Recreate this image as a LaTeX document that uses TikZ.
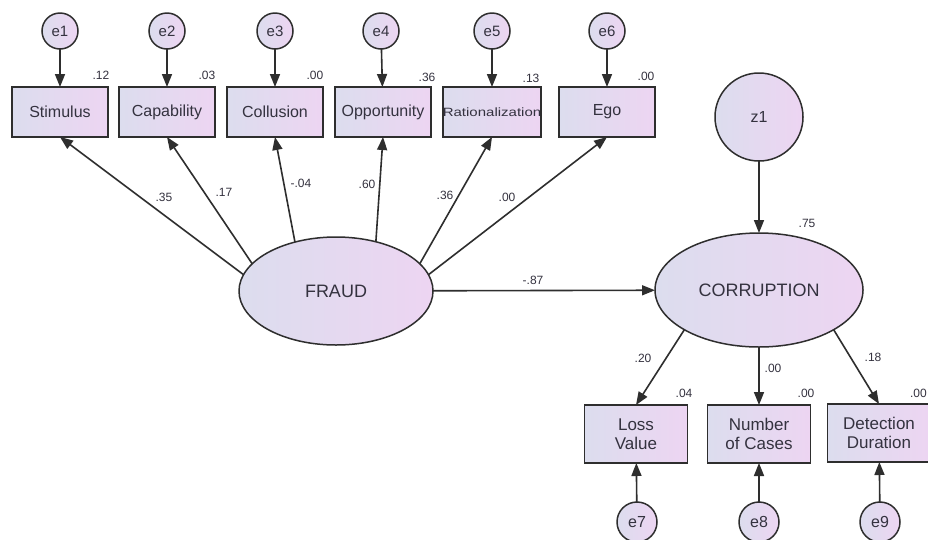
\documentclass[tikz,border=0pt]{standalone}
\usepackage{fontspec}
\setmainfont{Liberation Sans}
\newfontfamily\ratfont{Liberation Sans}[FakeStretch=1.25]
\usetikzlibrary{shapes.geometric,arrows.meta}
\definecolor{txt}{HTML}{34323F}
\definecolor{edge}{HTML}{2E2E2E}
\definecolor{fillL}{HTML}{DCDDEE}
\definecolor{fillR}{HTML}{EDD5F2}
\begin{document}
\begin{tikzpicture}[x=1pt,y=-1pt,
  base/.style={draw=edge, line width=1.5pt, left color=fillL, right color=fillR, text=txt, inner sep=0pt, outer sep=0pt},
  obs/.style={base, rectangle, minimum width=96pt, minimum height=50pt, font=\fontsize{16}{18}\selectfont},
  obstwo/.style={base, rectangle, minimum width=103pt, minimum height=58pt, align=center, font=\fontsize{17}{19}\selectfont},
  err/.style={base, circle, minimum size=36pt, font=\fontsize{15}{17}\selectfont},
  errtwo/.style={base, circle, minimum size=40pt, font=\fontsize{16}{18}\selectfont},
  lat/.style={base, ellipse, font=\fontsize{18}{20}\selectfont},
  arr/.style={draw=edge, line width=1.6pt, -{Triangle[length=13pt,width=10pt]}},
  lbl/.style={text=txt, font=\fontsize{12}{14}\selectfont, inner sep=0pt}
]
\useasboundingbox (0,0) rectangle (928,539);
\clip (0,0) rectangle (928,539);
\fill[white] (0,0) rectangle (928,539);

% top observed variables
\node[obs] (stim) at (60,112) {Stimulus};
\node[obs] (capa) at (167,112) {Capability};
\node[obs] (coll) at (275,112) {Collusion};
\node[obs] (oppo) at (383,112) {Opportunity};
\node[obs] (rati) at (492,112) {\ratfont\fontsize{12}{14}\selectfont Rationalization};
\node[obs] (ego) at (607,112) {Ego};

% error terms top
\node[err] (e1) at (60,31) {e1};
\node[err] (e2) at (167,31) {e2};
\node[err] (e3) at (275,31) {e3};
\node[err] (e4) at (381,31) {e4};
\node[err] (e5) at (492,31) {e5};
\node[err] (e6) at (607,31) {e6};

\foreach \e/\b in {e1/stim,e2/capa,e3/coll,e4/oppo,e5/rati,e6/ego}
  \draw[arr] (\e) -- (\b);

% latent variables
\node[lat, minimum width=194pt, minimum height=108pt] (fraud) at (336,291) {FRAUD};
\node[lat, minimum width=208pt, minimum height=114pt] (corr) at (759,290) {CORRUPTION};
\node[base, circle, minimum size=88pt, font=\fontsize{16}{18}\selectfont] (z1) at (759,117) {z1};

% lower observed variables
\node[obstwo] (loss) at (636,434) {Loss\\Value};
\node[obstwo] (numb) at (759,434) {Number\\of Cases};
\node[obstwo] (dete) at (879,433) {Detection\\Duration};

\node[errtwo] (e7) at (637,522) {e7};
\node[errtwo] (e8) at (759,522) {e8};
\node[errtwo] (e9) at (880,522) {e9};

\draw[arr] (e7) -- (loss);
\draw[arr] (e8) -- (numb);
\draw[arr] (e9) -- (dete);

% structural paths
\draw[arr] (fraud.170) -- (stim.south);
\draw[arr] (fraud.162) -- (capa.south);
\draw[arr] (fraud.130) -- (coll.south);
\draw[arr] (fraud.51) -- (oppo.south);
\draw[arr] (fraud.18) -- (rati.south);
\draw[arr] (fraud.10) -- (ego.south);
\draw[arr] (fraud) -- (corr);
\draw[arr] (z1) -- (corr);
\draw[arr] (corr.208) -- (loss.north);
\draw[arr] (corr) -- (numb);
\draw[arr] (corr.332) -- (dete.north);

% loadings
\node[lbl] (l1) at (164,197) {.35};
\node[lbl] (l2) at (224,192) {.17};
\node[lbl] (l3) at (301,183) {-.04};
\node[lbl] (l4) at (367,184) {.60};
\node[lbl] (l5) at (445,195) {.36};
\node[lbl] (l6) at (507,197) {.00};
\node[lbl] (l7) at (533,280) {-.87};
\node[lbl] (l8) at (643,358) {.20};
\node[lbl] (l9) at (773,368) {.00};
\node[lbl] (l10) at (873,357) {.18};

% squared multiple correlations
\node[lbl] (r1) at (101,75) {.12};
\node[lbl] (r2) at (207,75) {.03};
\node[lbl] (r3) at (315,75) {.00};
\node[lbl] (r4) at (427,77) {.36};
\node[lbl] (r5) at (531,78) {.13};
\node[lbl] (r6) at (646,76) {.00};
\node[lbl] (r7) at (807,223) {.75};
\node[lbl] (r8) at (684,393) {.04};
\node[lbl] (r9) at (806,393) {.00};
\node[lbl, anchor=east] (r10) at (927,393) {.00};
\end{tikzpicture}
\end{document}
